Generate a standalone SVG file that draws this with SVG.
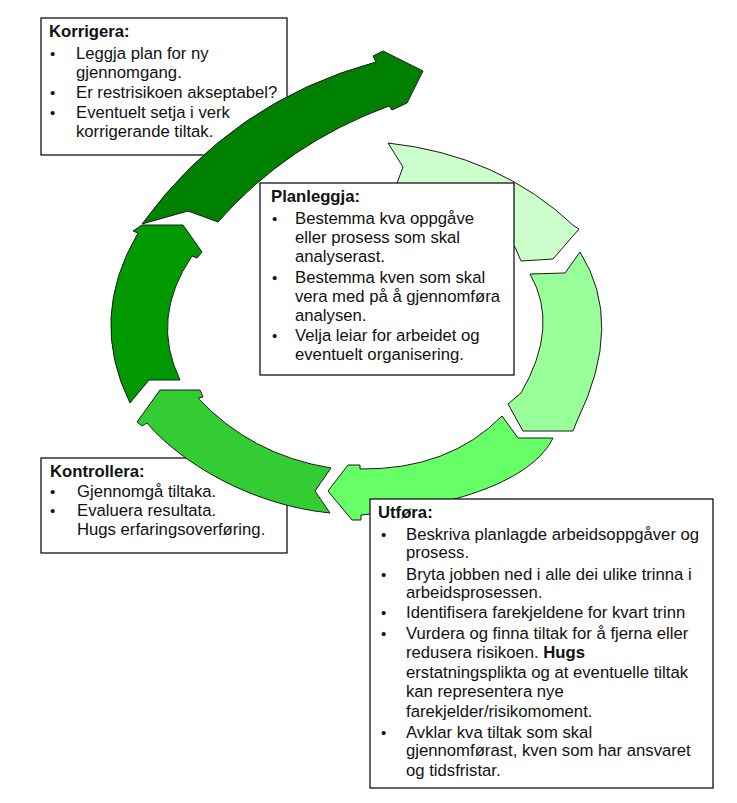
<svg xmlns="http://www.w3.org/2000/svg" width="737" height="803" viewBox="0 0 737 803">
<style>
.box{fill:#fff;stroke:#000;stroke-width:1.2}
.arr{stroke:#1a1a1a;stroke-width:1;stroke-linejoin:miter}
text{font-family:"Liberation Sans",Arial,sans-serif;font-size:16.7px;fill:#111}
.h{font-weight:bold}
.b{font-size:15px}
</style>
<rect width="737" height="803" fill="#fff"/>
<g id="korrigera">
<rect class="box" x="41" y="18" width="246" height="137"/>
<text class="h" x="49" y="37">Korrigera:</text>
<text class="b" x="50" y="59">•</text><text x="76" y="59">Leggja plan for ny</text>
<text x="76" y="78">gjennomgang.</text>
<text class="b" x="50" y="98">•</text><text x="76" y="98">Er restrisikoen akseptabel?</text>
<text class="b" x="50" y="118">•</text><text x="76" y="118">Eventuelt setja i verk</text>
<text x="76" y="137">korrigerande tiltak.</text>
</g>
<g id="kontrollera">
<rect class="box" x="41" y="458" width="246" height="95"/>
<text class="h" x="50" y="477">Kontrollera:</text>
<text class="b" x="50" y="497">•</text><text x="77" y="497">Gjennomgå tiltaka.</text>
<text class="b" x="50" y="516">•</text><text x="77" y="516">Evaluera resultata.</text>
<text x="77" y="535">Hugs erfaringsoverføring.</text>
</g>
<g id="connectors">
<path class="arr" fill="#008000" d="M142,224 L188,211 L218,222 Q287,143.5 389,106 L392,110 L407,103 L423,71 L383,51 L373,56 L376,62 Q231.5,101 142,224 Z"/>
<path class="arr" fill="#CCFFCC" d="M388,143 Q499,155 574,226 L579,229 L553,259 L521,261 L515,247 Q470,195 396,186 L403,167 Z"/>
<path class="arr" fill="#99FF99" d="M530,274 L565,273 L580,252 Q625,323 577,421 L573,431 L523,431 L508,404 L521,393 Q560,326 530,274 Z"/>
<path class="arr" fill="#66FF66" d="M502,416 L518,438 L553,438 C535,475 470,505 361,515 L361,520 L352,520 L328,491 L348,465 L360,465 L360,469 Q449,470 502,416 Z"/>
<path class="arr" fill="#33CC33" d="M331,468 Q251,455 198,398 L203,397 L200,390 L160,390 L137,422 L142,426 L147,423 C180,462 250,505 330,513 L315,491 Z"/>
<path class="arr" fill="#009900" d="M180,380 Q150,318 192,256 L197,258 L202,252 L183,225 L142,225 L133,231 L138,233 Q88,318 130,403 L149,380 Z"/>
</g>
<g id="planleggja">
<rect class="box" x="260" y="183" width="254" height="192"/>
<text class="h" x="271" y="202">Planleggja:</text>
<text class="b" x="272" y="224">•</text><text x="295" y="224">Bestemma kva oppgåve</text>
<text x="295" y="243">eller prosess som skal</text>
<text x="295" y="262">analyserast.</text>
<text class="b" x="272" y="283">•</text><text x="295" y="283">Bestemma kven som skal</text>
<text x="295" y="302">vera med på å gjennomføra</text>
<text x="295" y="321">analysen.</text>
<text class="b" x="272" y="341">•</text><text x="295" y="341">Velja leiar for arbeidet og</text>
<text x="295" y="360">eventuelt organisering.</text>
</g>
<g id="utfora">
<rect class="box" x="370" y="499" width="343" height="289"/>
<text class="h" x="378" y="518">Utføra:</text>
<text class="b" x="381" y="540">•</text><text x="406" y="540">Beskriva planlagde arbeidsoppgåver og</text>
<text x="406" y="558">prosess.</text>
<text class="b" x="381" y="580">•</text><text x="406" y="580">Bryta jobben ned i alle dei ulike trinna i</text>
<text x="406" y="598">arbeidsprosessen.</text>
<text class="b" x="381" y="618">•</text><text x="406" y="618">Identifisera farekjeldene for kvart trinn</text>
<text class="b" x="381" y="639">•</text><text x="406" y="639">Vurdera og finna tiltak for å fjerna eller</text>
<text x="406" y="658">redusera risikoen. <tspan class="h">Hugs</tspan></text>
<text x="406" y="678">erstatningsplikta og at eventuelle tiltak</text>
<text x="406" y="697">kan representera nye</text>
<text x="406" y="717">farekjelder/risikomoment.</text>
<text class="b" x="381" y="738">•</text><text x="406" y="738">Avklar kva tiltak som skal</text>
<text x="406" y="756">gjennomførast, kven som har ansvaret</text>
<text x="406" y="776">og tidsfristar.</text>
</g>
</svg>
